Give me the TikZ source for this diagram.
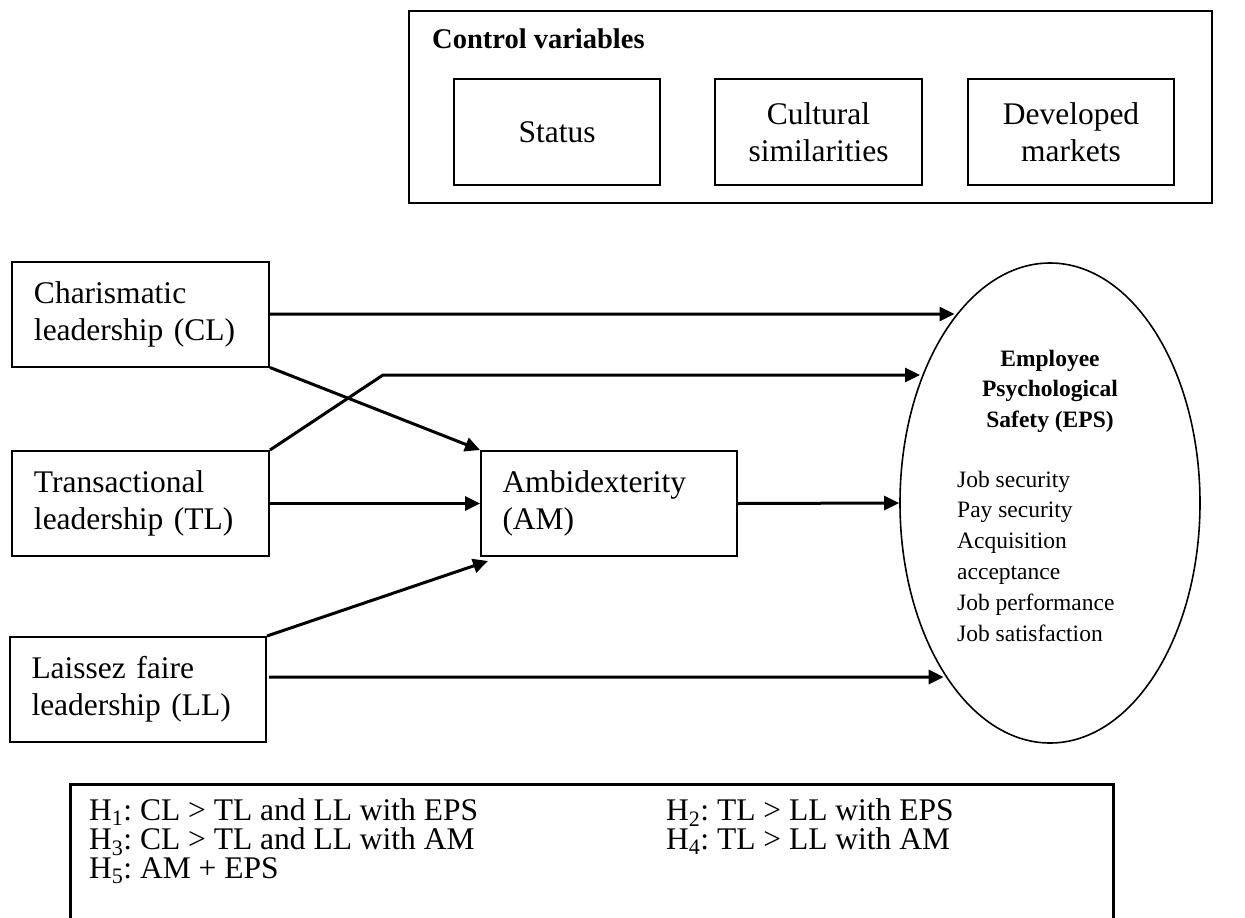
\documentclass[tikz,border=0pt]{standalone}
\usepackage{fontspec}
\setmainfont{Liberation Serif}
\frenchspacing
\usetikzlibrary{arrows.meta,shapes.geometric,calc,intersections}
\begin{document}
\begin{tikzpicture}[x=1pt,y=-1pt,
  bigfont/.style={font=\fontsize{31.5}{37}\selectfont},
  box/.style={draw,line width=2pt,rectangle,minimum width=257pt,minimum height=105pt,inner sep=0pt,bigfont},
  lbox/.style={box,align=left,text width=213pt},
  cbox/.style={box,align=center,minimum width=206pt,minimum height=106pt},
  arr/.style={line width=3pt,-{Triangle[length=15pt,width=14pt]}},
  txt/.style={anchor=base west,inner sep=0pt},
  epsfont/.style={font=\fontsize{23.5}{30.5}\selectfont},
  epsbold/.style={font=\fontsize{23.5}{30.5}\selectfont\bfseries},
]
\useasboundingbox (0,0) rectangle (1245,918);
\fill[white] (0,0) rectangle (1245,918);
\clip (0,0) rectangle (1245,918);

% control variables
\node[draw,line width=1.8pt,minimum width=803pt,minimum height=192pt,inner sep=0pt] (ctrl) at (810.5,107) {};
\node[txt,font=\fontsize{28.5}{34}\selectfont\bfseries] (ctrlT) at (432,48) {Control variables};
\node[cbox] (status) at (557,132) {Status};
\node[cbox,minimum width=207pt] (cult) at (818.5,132) {Cultural\\similarities};
\node[cbox] (dev) at (1071,132) {Developed\\markets};

% leadership boxes
\node[lbox] (CL) at (140.5,314) {Charismatic\\leadership (CL)};
\node[lbox] (TL) at (140.5,503.5) {Transactional\\leadership (TL)};
\node[lbox,minimum width=256pt] (LL) at (138,689.5) {Laissez faire\\leadership (LL)};
\node[lbox,minimum width=256pt] (AM) at (609,503.5) {Ambidexterity\\(AM)};

% EPS ellipse
\node[draw,ellipse,line width=1.6pt,minimum width=300pt,minimum height=480pt,inner sep=0pt] (EPS) at (1050,503) {};
\path[name path=ell] (EPS.center) ellipse [x radius=150pt, y radius=240pt];
\foreach \t [count=\i] in {Employee,Psychological,Safety (EPS)}
  \node[anchor=base,inner sep=0pt,epsbold] (t\i) at (1050,{366+30.5*(\i-1)}) {\t};
\foreach \t [count=\i] in {Job security,Pay security,Acquisition,acceptance,Job performance,Job satisfaction}
  \node[txt,epsfont] (j\i) at (957,{487+30.8*(\i-1)}) {\t};

% connectors
\coordinate (bend) at (383,375);
\coordinate (llS) at (269,677);
\path[name path=r1] (CL.east) -- ++(900,0);
\path[name path=r2] (bend) -- ++(900,0);
\path[name path=r3] (llS) -- ++(900,0);
\path[name intersections={of=ell and r1, sort by=r1, by={e1}}];
\path[name intersections={of=ell and r2, sort by=r2, by={e2}}];
\path[name intersections={of=ell and r3, sort by=r3, by={e3}}];
\draw[arr,shorten >=3pt] (CL.east) -- (e1);
\draw[arr,shorten >=3pt] (TL.north east) -- (bend) -- (e2);
\draw[arr] (CL.south east) -- (AM.north west);
\draw[arr] (TL.east) -- (AM.west);
\draw[arr] (LL.north east) -- ($(AM.south west)+(8,4)$);
\draw[arr] (AM.east) -- (EPS.west);
\draw[arr,shorten >=3pt] (llS) -- (e3);

% hypotheses
\node[draw,line width=2.5pt,minimum width=1043pt,minimum height=160pt,inner sep=0pt,anchor=north west] (hyp) at (69,783) {};
\node[txt,bigfont] (h1) at (89,820) {H\textsubscript{1}: CL > TL and LL with EPS};
\node[txt,bigfont] (h2) at (666,820) {H\textsubscript{2}: TL > LL with EPS};
\node[txt,bigfont] (h3) at (89,849) {H\textsubscript{3}: CL > TL and LL with AM};
\node[txt,bigfont] (h4) at (666,849) {H\textsubscript{4}: TL > LL with AM};
\node[txt,bigfont] (h5) at (89,878) {H\textsubscript{5}: AM + EPS};
\end{tikzpicture}
\end{document}
